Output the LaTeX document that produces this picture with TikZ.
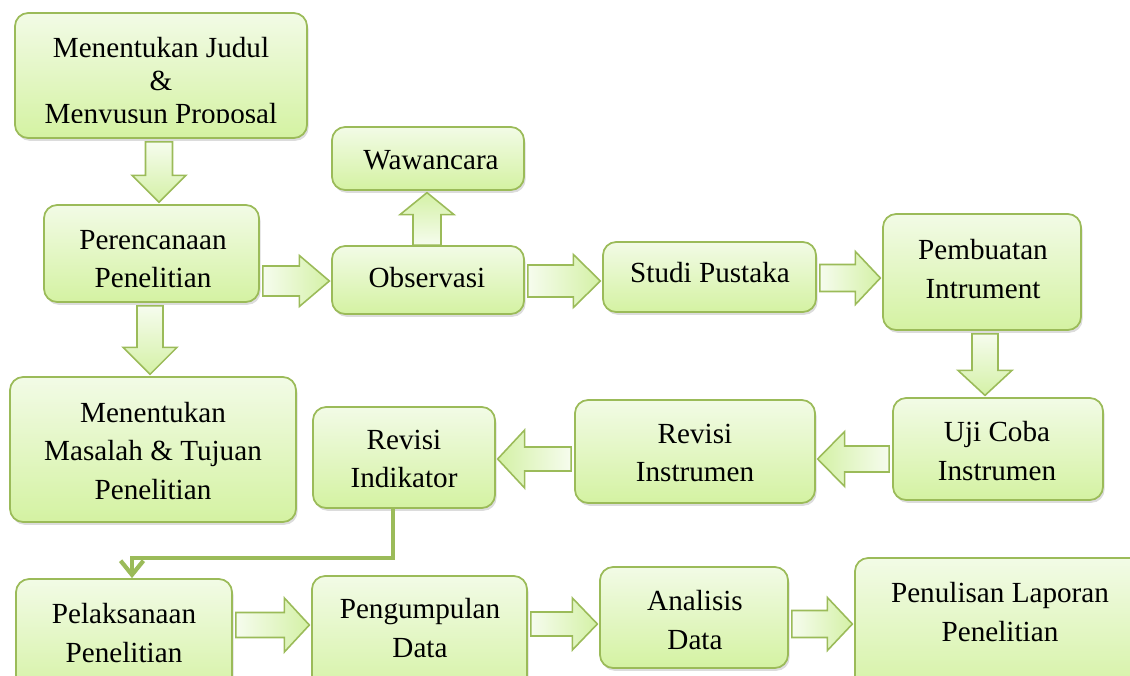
\documentclass[tikz,border=0pt]{standalone}
\usepackage{fontspec}
\setmainfont{Liberation Serif}
\usetikzlibrary{fit,shadows,calc,arrows.meta}
\definecolor{bd}{HTML}{9BBB59}
\definecolor{gtop}{HTML}{F2FBE6}
\definecolor{gbot}{HTML}{D4F2A2}
\definecolor{alight}{HTML}{F6FCEE}
\definecolor{adark}{HTML}{D4F1A6}
\tikzset{
  box/.style={draw=bd, line width=1pt, rounded corners=7.5pt, top color=gtop, bottom color=gbot,
    inner sep=0pt, drop shadow={shadow xshift=0.9pt, shadow yshift=-1.6pt, opacity=0.28}},
  txt/.style={align=center, inner sep=0pt, font=\fontsize{16.6}{21.8}\selectfont},
  barrow/.style={draw=bd, line width=0.9pt, line join=miter},
  elbow/.style={draw=bd, line width=2.4pt, -{Straight Barb[length=8pt,width=13pt]}}
}
% block arrows: #1 source node, #2 target node, #3 centre line (px), #4 shaft half, #5 head half, #6 head length
\newcommand\blkR[6]{%
  \draw[barrow, left color=alight, right color=adark]
    let \p1=(#1.east), \p2=(#2.west), \p3=(0,#3),
        \n1={#4*0.569pt}, \n2={#5*0.569pt}, \n3={\x2-1pt-#6*0.569pt} in
    ({\x1+1.7pt},{\y3+\n1}) -- ({\n3+0pt},{\y3+\n1}) -- ({\n3+0pt},{\y3+\n2}) -- ({\x2-1pt},{\y3+0pt})
    -- ({\n3+0pt},{\y3-\n2}) -- ({\n3+0pt},{\y3-\n1}) -- ({\x1+1.7pt},{\y3-\n1}) -- cycle;}
\newcommand\blkL[6]{%
  \draw[barrow, left color=adark, right color=alight]
    let \p1=(#1.west), \p2=(#2.east), \p3=(0,#3),
        \n1={#4*0.569pt}, \n2={#5*0.569pt}, \n3={\x2+1pt+#6*0.569pt} in
    ({\x1-1.7pt},{\y3+\n1}) -- ({\n3+0pt},{\y3+\n1}) -- ({\n3+0pt},{\y3+\n2}) -- ({\x2+1pt},{\y3+0pt})
    -- ({\n3+0pt},{\y3-\n2}) -- ({\n3+0pt},{\y3-\n1}) -- ({\x1-1.7pt},{\y3-\n1}) -- cycle;}
\newcommand\blkD[6]{%
  \draw[barrow, top color=alight, bottom color=adark]
    let \p1=(#1.south), \p2=(#2.north), \p3=(#3,0),
        \n1={#4*0.569pt}, \n2={#5*0.569pt}, \n3={\y2+1pt+#6*0.569pt} in
    ({\x3-\n1},{\y1-1.7pt}) -- ({\x3-\n1},{\n3+0pt}) -- ({\x3-\n2},{\n3+0pt}) -- ({\x3+0pt},{\y2+1pt})
    -- ({\x3+\n2},{\n3+0pt}) -- ({\x3+\n1},{\n3+0pt}) -- ({\x3+\n1},{\y1-1.7pt}) -- cycle;}
\newcommand\blkU[6]{%
  \draw[barrow, top color=adark, bottom color=alight]
    let \p1=(#1.north), \p2=(#2.south), \p3=(#3,0),
        \n1={#4*0.569pt}, \n2={#5*0.569pt}, \n3={\y2-1pt-#6*0.569pt} in
    ({\x3-\n1},{\y1+0pt}) -- ({\x3-\n1},{\n3+0pt}) -- ({\x3-\n2},{\n3+0pt}) -- ({\x3+0pt},{\y2-1pt})
    -- ({\x3+\n2},{\n3+0pt}) -- ({\x3+\n1},{\n3+0pt}) -- ({\x3+\n1},{\y1+0pt}) -- cycle;}
\begin{document}
\begin{tikzpicture}[x=0.02cm, y=-0.02cm]
\useasboundingbox (0,0) rectangle (1130,676);
\clip (0,0) rectangle (1130,676);
% boxes
\node[box, fit={(15,13) (307,138)}] (judul) {};
\node[box, fit={(44,205) (259,302)}] (rencana) {};
\node[box, fit={(10,377) (296,522)}] (masalah) {};
\node[box, fit={(332,127) (524,190)}] (wawancara) {};
\node[box, fit={(332,246) (524,314)}] (observasi) {};
\node[box, fit={(603,242) (816,312)}] (studi) {};
\node[box, fit={(883,214) (1081,330)}] (pembuatan) {};
\node[box, fit={(893,398) (1103,500)}] (ujicoba) {};
\node[box, fit={(575,400) (815,503)}] (revinst) {};
\node[box, fit={(313,407) (495,508)}] (revind) {};
\node[box, fit={(16,579) (232,700)}] (pelaksanaan) {};
\node[box, fit={(312,576) (527,700)}] (pengumpulan) {};
\node[box, fit={(600,567) (788,668)}] (analisis) {};
\node[box, fit={(855,558) (1150,700)}] (penulisan) {};
% block arrows
\blkD{judul}{rencana}{159}{13.5}{27}{27}
\blkD{rencana}{masalah}{150}{13}{27}{27}
\blkR{rencana}{observasi}{281}{15}{25.5}{30}
\blkU{observasi}{wawancara}{427}{14}{27}{22}
\blkR{observasi}{studi}{281}{16}{26.5}{27}
\blkR{studi}{pembuatan}{278}{13.5}{26.5}{25}
\blkD{pembuatan}{ujicoba}{985}{13}{27}{25}
\blkL{ujicoba}{revinst}{459}{13}{27.5}{27}
\blkL{revinst}{revind}{459}{12}{29}{27}
\blkR{pelaksanaan}{pengumpulan}{625}{12.5}{27}{25}
\blkR{pengumpulan}{analisis}{624}{12}{26}{25}
\blkR{analisis}{penulisan}{624}{13.5}{26.5}{25}
% elbow connector
\draw[elbow] (revind.south -| 393,0) -- (393,558) -- (132,558) -- (pelaksanaan.north -| 132,0);
% texts
\begin{scope}
\clip (0,0) rectangle (1130,122);
\node[txt, font=\fontsize{16.6}{19}\selectfont] (tjudul) at (161,83.5) {Menentukan Judul\\\&\\Menyusun Proposal};
\end{scope}
\node[txt] (trencana) at (153,259) {Perencanaan\\Penelitian};
\node[txt] (tmasalah) at (153,451) {Menentukan\\Masalah \& Tujuan\\Penelitian};
\node[txt] (twawancara) at (431,160) {Wawancara};
\node[txt] (tobservasi) at (427,278) {Observasi};
\node[txt] (tstudi) at (710,273) {Studi Pustaka};
\node[txt] (tpembuatan) at (983,269) {Pembuatan\\Intrument};
\node[txt] (tujicoba) at (997,451) {Uji Coba\\Instrumen};
\node[txt] (trevinst) at (695,453) {Revisi\\Instrumen};
\node[txt] (trevind) at (404,459) {Revisi\\Indikator};
\node[txt] (tpelaksanaan) at (124,633) {Pelaksanaan\\Penelitian};
\node[txt] (tpengumpulan) at (420,628) {Pengumpulan\\Data};
\node[txt] (tanalisis) at (695,620) {Analisis\\Data};
\node[txt] (tpenulisan) at (1000,612) {Penulisan Laporan\\Penelitian};
\end{tikzpicture}
\end{document}
